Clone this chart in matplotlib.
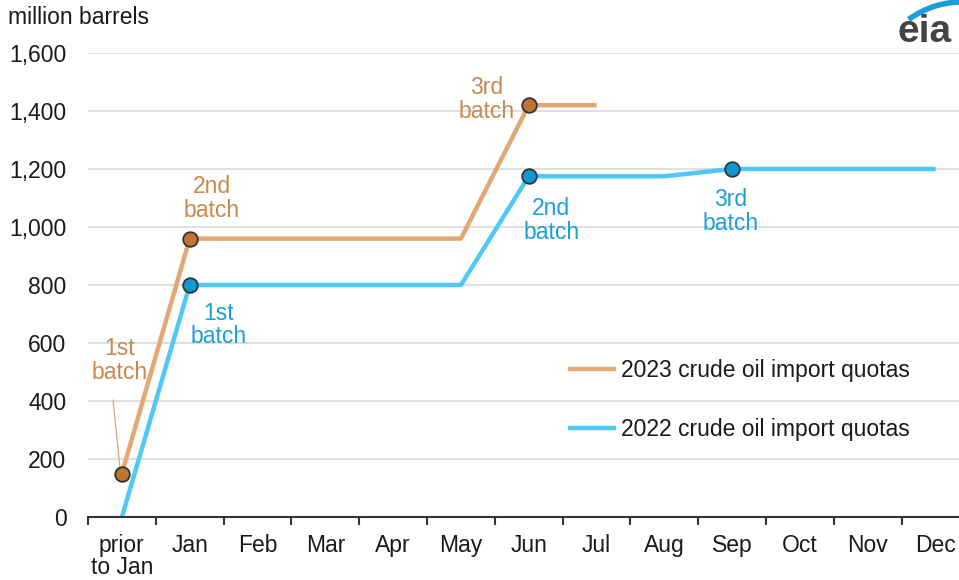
import matplotlib
matplotlib.use("Agg")
import matplotlib.pyplot as plt
from matplotlib.patches import Arc

plt.rcParams['font.family'] = ['Liberation Sans', 'DejaVu Sans']

categories = ["prior\nto Jan", "Jan", "Feb", "Mar", "Apr", "May", "Jun",
              "Jul", "Aug", "Sep", "Oct", "Nov", "Dec"]
quota_2023 = [150, 960, 960, 960, 960, 960, 1420, 1420]
quota_2022 = [0, 800, 800, 800, 800, 800, 1175, 1175, 1175, 1200, 1200, 1200, 1200]
marker_idx_2023 = [0, 1, 6]
marker_idx_2022 = [1, 6, 9]
yticks = [0, 200, 400, 600, 800, 1000, 1200, 1400, 1600]

c23_line = "#e2a772"
c23_mark = "#bd7530"
c23_text = "#c8894c"
c22_line = "#4fc8f7"
c22_mark = "#0f97d3"
c22_text = "#1a9fd8"
FS = 16.5

fig = plt.figure(figsize=(9.59, 5.80), dpi=100)
ax = fig.add_axes([88/959, 63/580, 881.5/959, 464/580])

x23 = list(range(len(quota_2023)))
x22 = list(range(len(quota_2022)))

ax.plot(x23, quota_2023, color=c23_line, lw=3.2, solid_capstyle='butt',
        label="2023 crude oil import quotas", zorder=3)
ax.plot(x22, quota_2022, color=c22_line, lw=3.2, solid_capstyle='butt',
        label="2022 crude oil import quotas", zorder=3)
ax.plot([x23[i] for i in marker_idx_2023], [quota_2023[i] for i in marker_idx_2023],
        ls='none', marker='o', ms=10.5, mfc=c23_mark, mec="#333333", mew=1.3, zorder=4)
ax.plot([x22[i] for i in marker_idx_2022], [quota_2022[i] for i in marker_idx_2022],
        ls='none', marker='o', ms=10.5, mfc=c22_mark, mec="#333333", mew=1.3, zorder=4)

ax.set_xlim(-0.5, len(categories) - 0.5)
ax.set_ylim(0, 1600)
ax.set_yticks(yticks)
ax.set_yticklabels([f"{v:,}" for v in yticks], fontsize=FS, color="#1a1a1a")
ax.set_xticks(range(len(categories)))
ax.set_xticklabels(categories, fontsize=FS, color="#1a1a1a", linespacing=0.95)
ax.set_xticks([i - 0.5 for i in range(len(categories))], minor=True)
ax.tick_params(axis='x', which='major', length=0, pad=12.5)
ax.tick_params(axis='x', which='minor', length=6, width=1.5, color="#333333")
ax.tick_params(axis='y', length=0, pad=15.5)
ax.grid(axis='y', color="#d9d9d9", lw=1.2, zorder=0)
ax.set_axisbelow(True)
for s in ['top', 'right', 'left']:
    ax.spines[s].set_visible(False)
ax.spines['bottom'].set_color("#333333")
ax.spines['bottom'].set_linewidth(1.5)
ax.spines['bottom'].set_zorder(5)

# annotations
kw = dict(fontsize=FS, ha='center', va='center', linespacing=1.05, zorder=6)
ax.text(-0.03, 540, "1st\nbatch", color=c23_text, **kw)
ax.plot([-0.131, -0.028], [403, 169], color=c23_line, lw=0.9, zorder=2)
ax.text(1.33, 1098, "2nd\nbatch", color=c23_text, **kw)
ax.text(5.385, 1441, "3rd\nbatch", color=c23_text, **kw)
ax.text(1.42, 662, "1st\nbatch", color=c22_text, **kw)
ax.text(6.33, 1021, "2nd\nbatch", color=c22_text, **kw)
ax.text(8.98, 1055, "3rd\nbatch", color=c22_text, **kw)

leg = ax.legend(loc='upper left', bbox_to_anchor=(568/959, 1 - 359/580),
                bbox_transform=fig.transFigure, frameon=False, fontsize=FS,
                handlelength=2.1, handletextpad=0.2, labelspacing=1.55,
                borderpad=0, borderaxespad=0)
for t in leg.get_texts():
    t.set_color("#1a1a1a")

fig.text(8/959, 1 - 18/580, "million barrels", fontsize=FS, color="#1a1a1a",
         ha='left', va='center')

# eia logo
fig.text(925/959, 1 - 42/580, "eia", fontsize=28, fontweight='bold', color="#444444",
         ha='center', va='baseline')
arc = Arc((962/959, 1 - 92/580), 2*90/959, 2*90/580, theta1=88, theta2=114,
          transform=fig.transFigure, color="#1a9fd8", lw=4)
fig.patches.append(arc)

fig.savefig("out.png", dpi=100)
